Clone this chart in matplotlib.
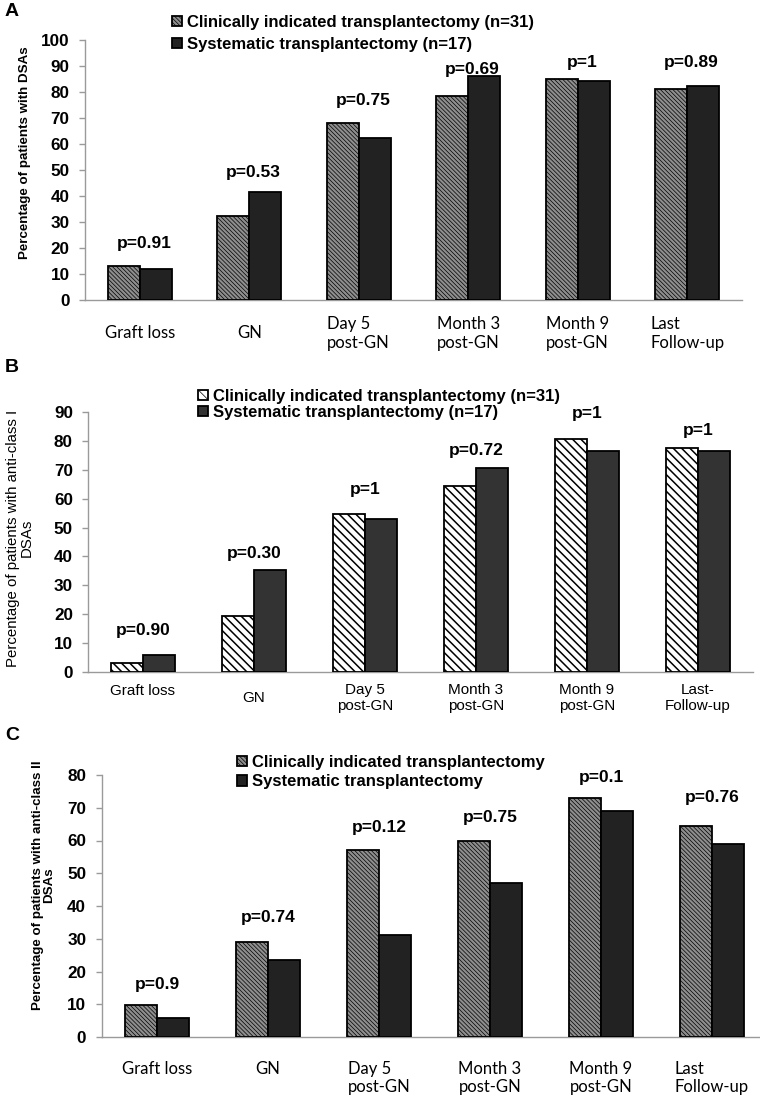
import matplotlib
matplotlib.use("Agg")
import matplotlib.pyplot as plt
import matplotlib.transforms as mtransforms
import numpy as np

plt.rcParams['font.family'] = ['Liberation Sans', 'DejaVu Sans']

# ---------------- data ----------------
categories_A = ["Graft loss", "GN", "Day 5\npost-GN", "Month 3\npost-GN", "Month 9\npost-GN", "Last\nFollow-up"]
categories_B = ["Graft loss", "GN", "Day 5\npost-GN", "Month 3\npost-GN", "Month 9\npost-GN", "Last-\nFollow-up"]
categories_C = ["Graft loss", "GN", "Day 5\npost-GN", "Month 3\npost-GN", "Month 9\npost-GN", "Last\nFollow-up"]

A_clinical = [13, 32.5, 68, 78.5, 85, 81]
A_systematic = [12, 41.5, 62.5, 86, 84.2, 82.4]
A_pvalues = ["p=0.91", "p=0.53", "p=0.75", "p=0.69", "p=1", "p=0.89"]

B_clinical = [3.2, 19.4, 54.8, 64.5, 80.6, 77.4]
B_systematic = [5.9, 35.3, 52.9, 70.6, 76.5, 76.5]
B_pvalues = ["p=0.90", "p=0.30", "p=1", "p=0.72", "p=1", "p=1"]

C_clinical = [9.7, 29, 57, 60, 73, 64.5]
C_systematic = [5.9, 23.5, 31, 47, 69, 59]
C_pvalues = ["p=0.9", "p=0.74", "p=0.12", "p=0.75", "p=0.1", "p=0.76"]

A_legend = ["Clinically indicated transplantectomy (n=31)", "Systematic transplantectomy (n=17)"]
B_legend = ["Clinically indicated transplantectomy (n=31)", "Systematic transplantectomy (n=17)"]
C_legend = ["Clinically indicated transplantectomy", "Systematic transplantectomy"]

A_ylabel = "Percentage of patients with DSAs"
B_ylabel = "Percentage of patients with anti-class I\nDSAs"
C_ylabel = "Percentage of patients with anti-class II\nDSAs"

# ---------------- layout (pixels) ----------------
W, H = 760, 1099
p_y_A = [21.9, 49.2, 76.9, 88.5, 91.5, 91.5]
p_y_B = [14.2, 41.0, 63.3, 76.8, 89.6, 83.7]
p_y_C = [15.9, 36.6, 64, 67, 79.3, 73.2]

fig = plt.figure(figsize=(W / 100, H / 100), dpi=100)


def ax_px(left, top, right, bottom):
    return fig.add_axes([left / W, 1 - bottom / H, (right - left) / W, (bottom - top) / H])


def style_axis(ax, ymax, ystep, tick_pad):
    ax.set_ylim(0, ymax)
    ax.set_yticks(np.arange(0, ymax + 0.1, ystep))
    ax.set_xlim(-0.5, 5.5)
    for s in ['top', 'right']:
        ax.spines[s].set_visible(False)
    for s in ['left', 'bottom']:
        ax.spines[s].set_color('#9a9a9a')
        ax.spines[s].set_linewidth(1.0)
    ax.tick_params(axis='y', direction='out', length=4, width=1, color='#9a9a9a',
                   pad=tick_pad, labelsize=12.3)
    for lab in ax.get_yticklabels():
        lab.set_fontweight('bold')
    ax.tick_params(axis='x', length=0)


def draw_bars(ax, clin, sys_, fc_clin, hatch, fc_sys, lw, hlw):
    x = np.arange(len(clin))
    w = 0.29
    b1 = ax.bar(x - w / 2, clin, w, facecolor=fc_clin, edgecolor='black', hatch=hatch,
                linewidth=lw, zorder=3)
    b2 = ax.bar(x + w / 2, sys_, w, facecolor=fc_sys, edgecolor='black',
                linewidth=lw, zorder=3)
    for p in b1:
        if hasattr(p, 'set_hatch_linewidth'):
            p.set_hatch_linewidth(hlw)
    return b1, b2


LEG_KW = dict(loc='upper left', frameon=False, borderpad=0, borderaxespad=0,
              handlelength=0.6, handleheight=0.6, handletextpad=0.3)

# ================= Panel A =================
plt.rcParams['hatch.linewidth'] = 0.5
axA = ax_px(85, 40, 742, 300)
style_axis(axA, 100, 10, 7)
a1, a2 = draw_bars(axA, A_clinical, A_systematic, '#8e8e8e', '\\\\\\\\\\\\\\\\', '#222222', 1.3, 0.5)
xA = np.arange(len(categories_A))
axA.set_xticks(xA)
axA.set_xticklabels(categories_A, fontfamily='Lato', fontsize=12, va='center',
                    multialignment='left')
axA.tick_params(axis='x', pad=24)
for xi, (t, yv) in enumerate(zip(A_pvalues, p_y_A)):
    axA.text(xi + 0.04, yv, t, ha='center', va='center', fontsize=12.5, fontweight='bold',
             clip_on=False, zorder=4)
axA.set_ylabel(A_ylabel, fontsize=9.6, fontweight='bold', va='center')
axA.yaxis.set_label_coords((25 - 85) / 657, (300 - 153) / 260)
axA.legend([a1, a2], A_legend, bbox_to_anchor=(172 / W, 1 - 15 / H),
           bbox_transform=fig.transFigure, labelspacing=0.4,
           prop={'weight': 'bold', 'size': 12}, **LEG_KW)
fig.text(5 / W, 1 - 12 / H, "A", fontsize=14, fontweight='bold', va='center', ha='left')

# ================= Panel B =================
axB = ax_px(87.5, 412, 753.5, 672)
style_axis(axB, 90, 10, 6.5)
b1, b2 = draw_bars(axB, B_clinical, B_systematic, 'white', '\\\\\\\\', '#333333', 1.3, 1.1)
xB = np.arange(len(categories_B))
axB.set_xticks(xB)
axB.set_xticklabels(categories_B, fontsize=11, va='center', multialignment='center')
axB.tick_params(axis='x', pad=19)
lab0 = axB.get_xticklabels()[0]
lab0.set_transform(lab0.get_transform() + mtransforms.ScaledTranslation(0, 7 / 100, fig.dpi_scale_trans))
for xi, (t, yv) in enumerate(zip(B_pvalues, p_y_B)):
    axB.text(xi, yv, t, ha='center', va='center', fontsize=12.5, fontweight='bold',
             clip_on=False, zorder=4)
axB.set_ylabel(B_ylabel, fontsize=10.8, va='center', multialignment='center', linespacing=1.0)
axB.yaxis.set_label_coords((20 - 87.5) / 666, (672 - 538) / 260)
axB.legend([b1, b2], B_legend, bbox_to_anchor=(198 / W, 1 - 389 / H),
           bbox_transform=fig.transFigure, labelspacing=0.05,
           prop={'weight': 'bold', 'size': 12}, **LEG_KW)
fig.text(5 / W, 1 - 368 / H, "B", fontsize=14, fontweight='bold', va='center', ha='left')

# ================= Panel C =================
axC = ax_px(101.5, 775, 767.5, 1037)
style_axis(axC, 80, 10, 7)
c1, c2 = draw_bars(axC, C_clinical, C_systematic, '#8e8e8e', '\\\\\\\\\\\\\\\\', '#222222', 1.3, 0.5)
xC = np.arange(len(categories_C))
axC.set_xticks(xC)
axC.set_xticklabels(categories_C, fontfamily='Lato', fontsize=12, va='top',
                    multialignment='left')
axC.tick_params(axis='x', pad=17)
for xi, (t, yv) in enumerate(zip(C_pvalues, p_y_C)):
    axC.text(xi, yv, t, ha='center', va='center', fontsize=12.5, fontweight='bold',
             clip_on=False, zorder=4)
axC.set_ylabel(C_ylabel, fontsize=9.6, fontweight='bold', va='center', multialignment='center',
               linespacing=1.0)
axC.yaxis.set_label_coords((43.5 - 101.5) / 666, (1037 - 885) / 262)
axC.legend([c1, c2], C_legend, bbox_to_anchor=(237 / W, 1 - 755 / H),
           bbox_transform=fig.transFigure, labelspacing=0.25,
           prop={'weight': 'bold', 'size': 12}, **LEG_KW)
fig.text(5 / W, 1 - 736 / H, "C", fontsize=14, fontweight='bold', va='center', ha='left')

fig.savefig("out.png", dpi=100)
